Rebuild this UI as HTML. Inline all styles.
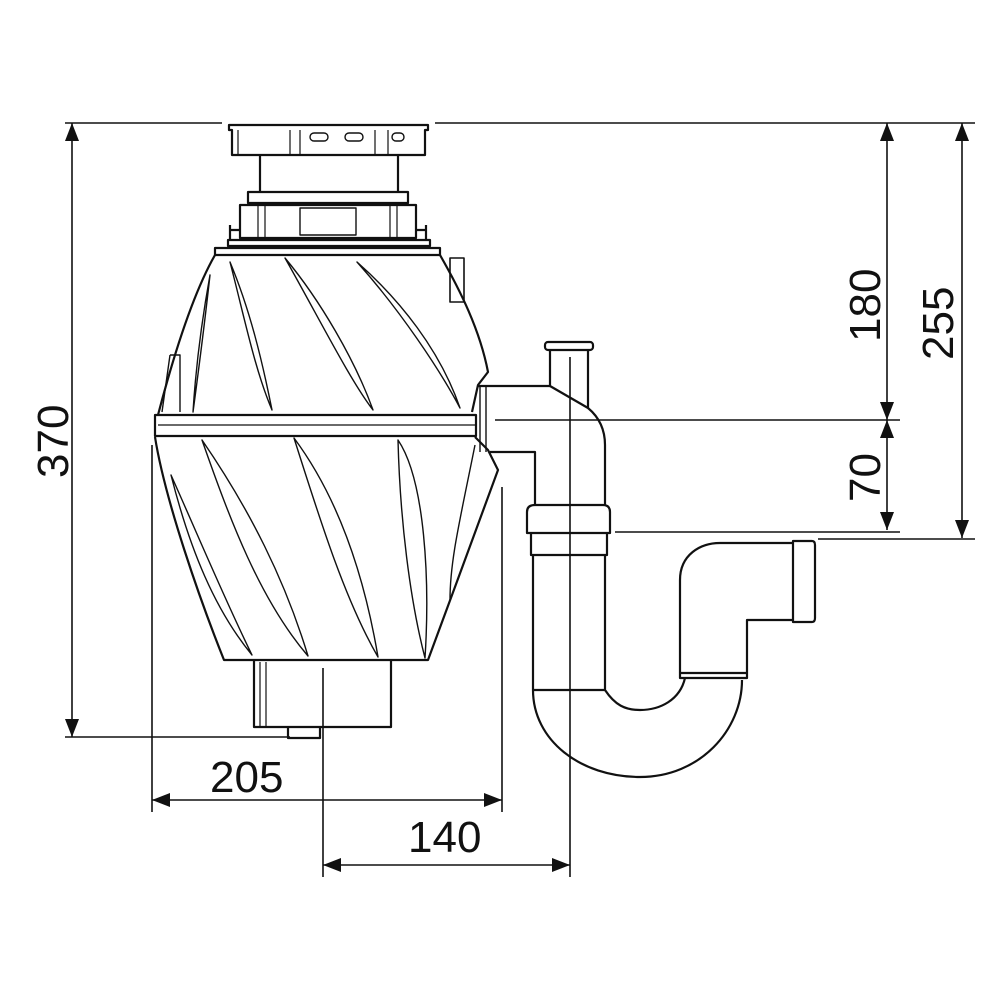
<!DOCTYPE html>
<html><head><meta charset="utf-8"><style>
html,body{margin:0;padding:0;background:#fff;}
svg{display:block;}
text{font-family:"Liberation Sans",sans-serif;font-size:44px;fill:#111;}
</style></head><body>
<svg width="1000" height="1000" viewBox="0 0 1000 1000" xmlns="http://www.w3.org/2000/svg">
<g fill="none" stroke="#111" stroke-width="1.6">
<line x1="65" y1="123" x2="222" y2="123"/>
<line x1="435" y1="123" x2="975" y2="123"/>
<line x1="72" y1="123" x2="72" y2="737"/>
<line x1="65" y1="737" x2="290" y2="737"/>
<line x1="887" y1="123" x2="887" y2="530"/>
<line x1="962" y1="123" x2="962" y2="538"/>
<line x1="495" y1="420" x2="900" y2="420"/>
<line x1="615" y1="532" x2="900" y2="532"/>
<line x1="818" y1="539" x2="975" y2="539"/>
<line x1="152" y1="445" x2="152" y2="812"/>
<line x1="502" y1="487" x2="502" y2="812"/>
<line x1="323" y1="668" x2="323" y2="877"/>
<line x1="570" y1="357" x2="570" y2="877"/>
<line x1="152" y1="800" x2="502" y2="800"/>
<line x1="323" y1="865" x2="570" y2="865"/>
</g>
<g fill="#111">
<polygon points="72,123 65,141 79,141"/>
<polygon points="72,737 65,719 79,719"/>
<polygon points="887,123 880,141 894,141"/>
<polygon points="887,420 880,402 894,402"/>
<polygon points="887,420 880,438 894,438"/>
<polygon points="887,530 880,512 894,512"/>
<polygon points="962,123 955,141 969,141"/>
<polygon points="962,538 955,520 969,520"/>
<polygon points="152,800 170,793 170,807"/>
<polygon points="502,800 484,793 484,807"/>
<polygon points="323,865 341,858 341,872"/>
<polygon points="570,865 552,858 552,872"/>
</g>
<text x="210" y="792">205</text>
<text x="408" y="852">140</text>
<text transform="translate(68,478) rotate(-90)">370</text>
<text transform="translate(880,342) rotate(-90)">180</text>
<text transform="translate(880,502) rotate(-90)">70</text>
<text transform="translate(953,360) rotate(-90)">255</text>

<g fill="none" stroke="#111" stroke-width="2.2" stroke-linejoin="round">
<path d="M229,125 H428 V130 H425 V155 H232 V130 H229 Z"/>
<line x1="238" y1="130" x2="238" y2="155" stroke-width="1.2"/>
<line x1="290" y1="130" x2="290" y2="155" stroke-width="1.2"/>
<line x1="300" y1="130" x2="300" y2="155" stroke-width="1.2"/>
<line x1="375" y1="130" x2="375" y2="155" stroke-width="1.2"/>
<line x1="388" y1="130" x2="388" y2="155" stroke-width="1.2"/>
<rect x="310" y="133" width="18" height="8" rx="4" stroke-width="1.4"/>
<rect x="345" y="133" width="18" height="8" rx="4" stroke-width="1.4"/>
<rect x="392" y="133" width="12" height="8" rx="4" stroke-width="1.4"/>
<path d="M260,155 V192 M398,155 V192"/>
<path d="M248,192 H408 V203 H248 Z"/>
<path d="M240,205 H416 V238 H240 Z"/>
<path d="M230,230 H240 M416,230 H426 M230,225 V240 M426,225 V240"/>
<path d="M300,208 H356 V235 H300 Z" stroke-width="1.4"/>
<line x1="258" y1="205" x2="258" y2="238" stroke-width="1.2"/>
<line x1="265" y1="205" x2="265" y2="238" stroke-width="1.2"/>
<line x1="390" y1="205" x2="390" y2="238" stroke-width="1.2"/>
<line x1="397" y1="205" x2="397" y2="238" stroke-width="1.2"/>
<path d="M228,240 H430 V246 H228 Z"/>
<path d="M215,248 H440 V255 H215 Z"/>
<path d="M215,255 C195,290 175,350 158,415 M440,255 C460,290 480,330 488,372 L478,385 L472,412"/>
<path d="M450,258 H464 V302 H450 Z" stroke-width="1.6"/>
<path d="M160,415 H476 V436 H155 V415 Z"/>
<path d="M158,425 H476" stroke-width="1.2"/>
<path d="M230,262 C245,320 255,370 272,410 C262,360 250,310 230,262 Z" stroke-width="1.4"/>
<path d="M285,258 C320,320 350,380 373,410 C355,360 320,300 285,258 Z" stroke-width="1.4"/>
<path d="M357,262 C400,310 440,370 460,408 C440,350 400,300 357,262 Z" stroke-width="1.4"/>
<path d="M210,275 C200,330 195,380 193,412 C200,360 205,320 210,275 Z" stroke-width="1.4"/>
<path d="M170,355 H180 V412 M170,355 L162,412" stroke-width="1.4"/>
<path d="M155,437 C165,500 200,600 224,660 H428 C450,600 480,520 498,470 L488,450 L475,437"/>
<path d="M171,475 C190,550 215,610 252,655 C225,600 200,540 171,475 Z" stroke-width="1.4"/>
<path d="M202,440 C230,520 260,600 308,656 C285,580 250,510 202,440 Z" stroke-width="1.4"/>
<path d="M294,438 C320,520 345,600 378,657 C365,580 340,500 294,438 Z" stroke-width="1.4"/>
<path d="M398,440 C400,520 410,600 425,658 C430,580 425,480 398,440 Z" stroke-width="1.4"/>
<path d="M475,445 C460,520 450,560 450,600" stroke-width="1.4"/>
<path d="M254,660 V727 H391 V660"/>
<line x1="260" y1="662" x2="260" y2="727" stroke-width="1.2"/>
<line x1="266" y1="662" x2="266" y2="727" stroke-width="1.2"/>
<path d="M288,727 V738 H320 V727"/>
<path d="M478,386 H550 M490,452 H535 V505"/>
<path d="M480,385 V452 M486,385 V452" stroke-width="1.4"/>
<rect x="545" y="342" width="48" height="8" rx="3"/>
<path d="M550,350 V386 L588,408 V350"/>
<path d="M588,408 C600,418 605,430 605,445 V505"/>
<path d="M527,512 Q527,505 535,505 H603 Q610,505 610,512 V533 H527 Z"/>
<path d="M531,533 V555 H607 V533"/>
<path d="M533,555 V690 C533,740 580,777 640,777 C700,777 742,730 742,680"/>
<path d="M605,555 V690 C615,705 625,710 640,710 C660,710 680,700 685,678"/>
<path d="M533,690 H605"/>
<path d="M680,673 H747 V678 H680 Z"/>
<path d="M680,673 V580 C680,555 700,543 720,543 H793 M747,673 V620 H793"/>
<path d="M793,541 H812 Q815,541 815,545 V618 Q815,622 812,622 H793 Z"/>
</g>
</svg>
</body></html>
